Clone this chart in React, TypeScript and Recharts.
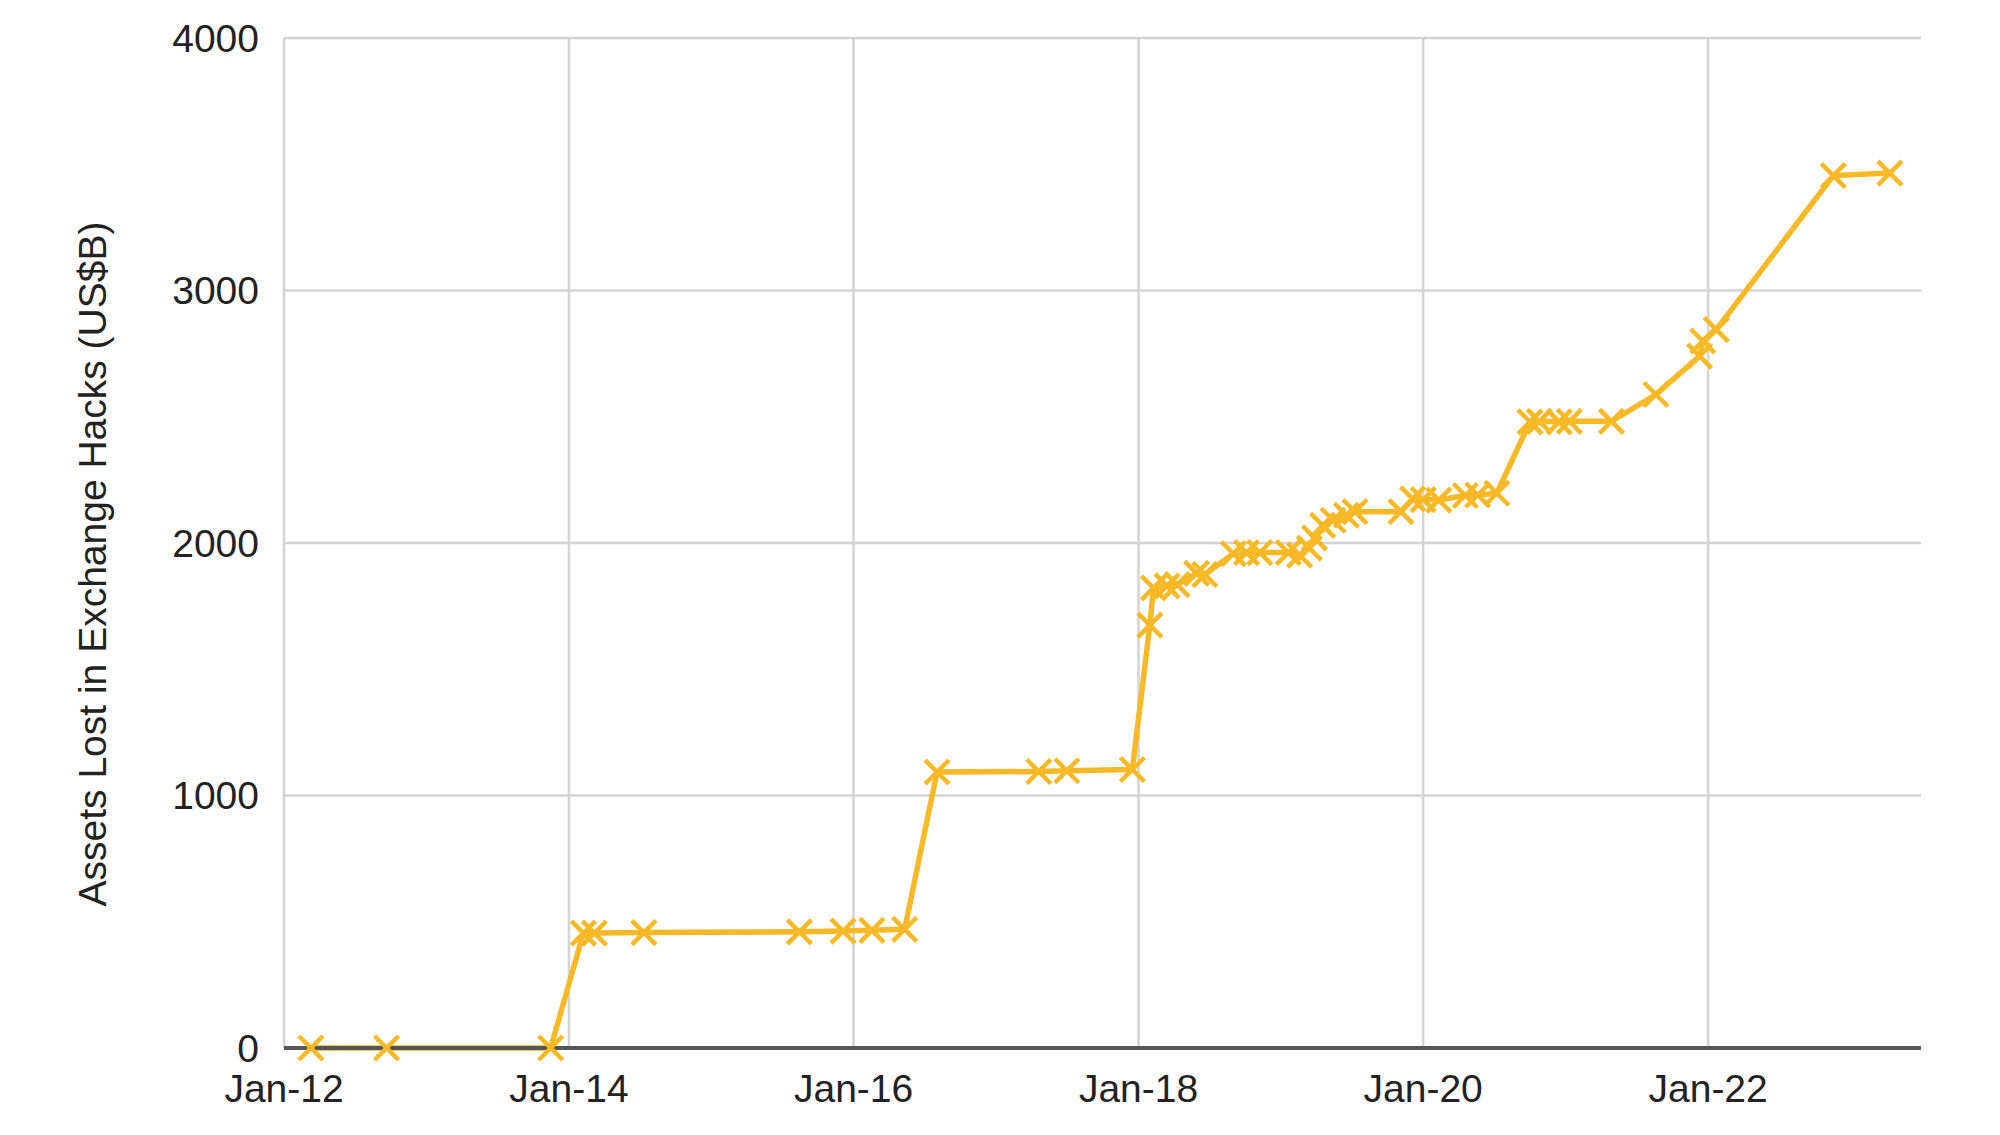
import { LineChart, Line, XAxis, YAxis, CartesianGrid } from 'recharts';

// hack dates (approximate) and cumulative assets lost
const hackDates = [
  '2012-03-10', '2012-09-20', '2013-11-15',
  '2014-02-07', '2014-03-07', '2014-07-12', '2015-08-15', '2015-12-05', '2016-02-17', '2016-05-11',
  '2016-08-02', '2017-04-20', '2017-07-01', '2017-12-16',
  '2018-01-30', '2018-02-08', '2018-03-15', '2018-04-10', '2018-05-30', '2018-06-20',
  '2018-09-01', '2018-10-05', '2018-11-08', '2019-01-20', '2019-02-18', '2019-03-15',
  '2019-03-28', '2019-04-18', '2019-05-15', '2019-06-18', '2019-07-10', '2019-11-05',
  '2019-12-05', '2020-01-01', '2020-02-10', '2020-04-18', '2020-05-20', '2020-07-08',
  '2020-10-01', '2020-10-25', '2020-12-15', '2021-01-10', '2021-04-28', '2021-08-20',
  '2021-12-10', '2021-12-18', '2022-01-22', '2022-11-18', '2023-04-12',
];

const assetsLost = [
  0, 0, 0,
  455, 455, 457, 460, 463, 466, 470,
  1093, 1095, 1098, 1103,
  1675, 1822, 1830, 1835, 1880, 1875,
  1958, 1962, 1962, 1962, 1952, 1980,
  2020, 2070, 2090, 2110, 2124, 2124,
  2175, 2172, 2170, 2188, 2190, 2197,
  2480, 2482, 2480, 2482, 2482, 2588,
  2740, 2800, 2845, 3455, 3465,
];

const yTicks = [0, 1000, 2000, 3000, 4000];
const xTickYears = [2012, 2014, 2016, 2018, 2020, 2022];

const LINE_COLOR = '#F8B927';
const FONT = '"Liberation Sans", Arial, sans-serif';

const data = hackDates.map((d, i) => ({ t: Date.parse(d), value: assetsLost[i] }));
const xTicks = xTickYears.map((y) => Date.UTC(y, 0, 1));
const xDomain = [Date.UTC(2012, 0, 1), Date.UTC(2023, 6, 1)];

const fmtDate = (t: number) => {
  const d = new Date(t);
  return 'Jan-' + String(d.getUTCFullYear() % 100).padStart(2, '0');
};

// x shaped point marker
const XMark = (props: any) => {
  const { cx, cy } = props;
  if (cx == null || cy == null) return null;
  const s = 12;
  return (
    <g>
      <line x1={cx - s} y1={cy - s} x2={cx + s} y2={cy + s} stroke={LINE_COLOR} strokeWidth={4.5} />
      <line x1={cx - s} y1={cy + s} x2={cx + s} y2={cy - s} stroke={LINE_COLOR} strokeWidth={4.5} />
    </g>
  );
};

export default function App() {
  return (
    <div style={{ width: 2000, height: 1135, background: '#fff' }}>
      <style>{'body{margin:0;background:#fff}'}</style>
      <LineChart
        width={2000}
        height={1135}
        data={data}
        margin={{ top: 38, right: 79, left: 0, bottom: 0 }}
      >
        <CartesianGrid stroke="#d4d4d4" strokeWidth={2.5} syncWithTicks />
        <XAxis
          dataKey="t"
          type="number"
          scale="linear"
          domain={xDomain}
          ticks={xTicks}
          allowDataOverflow
          tickFormatter={fmtDate}
          height={87}
          tickLine={false}
          tickSize={0}
          tickMargin={26}
          axisLine={{ stroke: '#555', strokeWidth: 4 }}
          tick={{ fontSize: 39, fill: '#222', fontFamily: FONT }}
        />
        <YAxis
          type="number"
          domain={[0, 4000]}
          ticks={yTicks}
          width={284}
          axisLine={false}
          tickLine={false}
          tickSize={0}
          tickMargin={25}
          tick={{ fontSize: 39, fill: '#222', fontFamily: FONT }}
          label={{
            content: () => (
              <text
                x={92}
                y={564}
                transform="rotate(-90 92 564)"
                textAnchor="middle"
                dominantBaseline="central"
                fontSize={39}
                fill="#222"
                fontFamily={FONT}
              >
                Assets Lost in Exchange Hacks (US$B)
              </text>
            ),
          }}
        />
        <Line
          type="linear"
          dataKey="value"
          stroke={LINE_COLOR}
          strokeWidth={5.5}
          dot={(p: any) => <XMark key={p.index} {...p} />}
          activeDot={false}
          isAnimationActive={false}
        />
      </LineChart>
    </div>
  );
}
